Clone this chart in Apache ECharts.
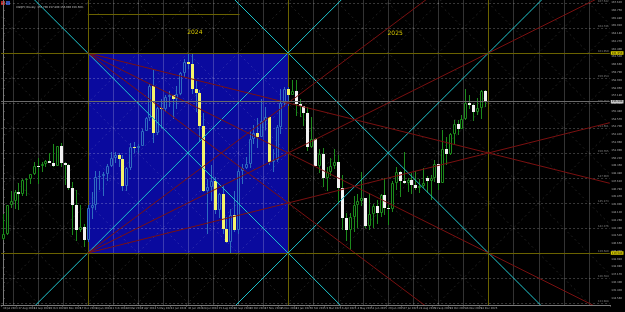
<!DOCTYPE html>
<html><head><meta charset="utf-8">
<script src="https://cdn.jsdelivr.net/npm/echarts@6/dist/echarts.min.js"></script>
<style>html,body{margin:0;padding:0;background:#000;}#c{width:625px;height:312px;}</style>
</head><body><div id="c"></div>
<script>
const TITLE_TEXT = 'USDJPY,Weekly  157.700 157.800 155.900 156.500';
const N_SLOTS = 158;
const DATE_LABELS = ['30 Jul 2023','27 Aug 2023','24 Sep 2023','22 Oct 2023','19 Nov 2023','17 Dec 2023','14 Jan 2024','11 Feb 2024','10 Mar 2024','7 Apr 2024','5 May 2024','2 Jun 2024','30 Jun 2024','28 Jul 2024','25 Aug 2024','22 Sep 2024','20 Oct 2024','17 Nov 2024','15 Dec 2024','12 Jan 2025','9 Feb 2025','9 Mar 2025','6 Apr 2025','4 May 2025','1 Jun 2025','29 Jun 2025','27 Jul 2025','24 Aug 2025','21 Sep 2025','19 Oct 2025','16 Nov 2025','14 Dec 2025'];
// weekly candles [open, high, low, close]
const C2023 = [
[141.15,143.89,141.05,141.75],[141.75,145.00,141.55,144.95],[144.95,146.56,144.60,145.40],[145.40,146.64,144.55,146.40],
[146.40,147.37,144.44,146.20],[146.20,147.87,145.90,147.80],[147.80,147.95,145.90,147.85],[147.85,148.46,147.30,148.37],
[148.37,149.71,148.30,149.35],[149.35,150.16,147.30,149.30],[149.30,149.80,148.60,149.57],[149.57,150.00,149.20,149.86],
[149.86,150.78,149.60,149.65],[149.65,151.72,149.20,149.35],[149.35,151.59,149.30,151.50],[151.50,151.91,149.20,149.60],
[149.60,149.75,147.15,149.45],[149.45,149.50,146.67,146.80],[146.80,147.50,141.63,144.95],[144.95,146.60,140.95,142.15],
[142.15,144.95,141.90,142.45],[142.45,142.80,140.25,141.00]];
const C2024 = [
[141.00,145.00,140.80,144.60],[144.60,146.40,143.40,144.90],[144.90,148.80,144.35,148.10],[148.10,148.70,146.65,148.15],
[148.15,148.60,145.90,148.40],[148.40,149.55,147.65,149.30],[149.30,150.90,149.20,150.20],[150.20,150.85,149.60,150.50],
[150.50,150.80,149.20,150.10],[150.10,150.50,146.50,147.05],[147.05,149.20,146.50,149.05],[149.05,151.85,148.90,151.40],
[151.40,151.97,150.80,151.35],[151.35,151.80,150.80,151.60],[151.60,153.40,151.50,153.25],[153.25,154.80,153.20,154.65],
[154.65,158.45,154.30,158.30],[158.30,160.20,151.85,153.00],[153.00,155.95,152.80,155.75],[155.75,156.80,153.60,155.65],
[155.65,157.20,155.40,157.00],[157.00,157.70,155.90,157.25],[157.25,157.30,154.55,156.75],[156.75,158.25,155.70,157.40],
[157.40,159.80,157.20,159.75],[159.75,161.30,159.30,160.90],[160.90,161.95,160.20,160.75],[160.75,161.80,157.40,157.90],
[157.90,158.85,155.40,157.45],[157.45,157.85,151.95,153.75],[153.75,155.20,146.40,146.55],[146.55,147.90,141.70,146.95],
[146.95,149.40,145.40,147.60],[147.60,148.10,143.95,144.35],[144.35,146.25,143.45,146.20],[146.20,147.20,141.75,142.30],
[142.30,143.60,140.70,140.85],[140.85,144.50,139.58,143.85],[143.85,146.50,141.90,142.20],[142.20,149.00,141.65,148.70],
[148.70,149.55,147.35,149.10],[149.10,150.30,148.95,149.50],[149.50,153.20,149.10,152.30],[152.30,153.90,151.75,152.95],
[152.95,154.70,151.30,152.60],[152.60,156.75,152.55,154.30],[154.30,155.90,153.30,154.75],[154.75,154.80,149.45,149.75],
[149.75,151.20,148.65,149.95],[149.95,153.90,149.80,153.65],[153.65,157.90,152.85,156.40],[156.40,158.10,156.00,157.90]];
const C2025 = [
[157.90,158.10,156.05,157.30],[157.30,158.90,157.20,157.75],[157.75,158.90,154.95,156.30],[156.30,156.75,154.80,156.00],
[156.00,156.00,153.75,155.20],[155.20,155.90,150.95,151.40],[151.40,154.80,151.30,152.30],[152.30,152.40,149.30,149.30],
[149.30,151.25,148.55,150.60],[150.60,151.30,146.95,148.00],[148.00,149.20,146.55,148.60],[148.60,150.15,148.20,149.30],
[149.30,151.20,149.00,149.80],[149.80,150.50,145.20,146.90],[146.90,148.30,142.10,143.50],[143.50,144.00,140.90,142.20],
[142.20,144.00,139.90,143.60],[143.60,145.90,141.95,144.90],[144.90,146.20,142.40,145.35],[145.35,148.65,144.80,145.70],
[145.70,145.75,142.40,142.55],[142.55,146.30,142.10,143.95],[143.95,145.10,142.40,144.85],[144.85,145.50,142.80,144.10],
[144.10,146.20,143.60,146.10],[146.10,148.00,143.80,144.60],[144.60,145.00,142.70,144.45],[144.45,147.60,144.20,147.40],
[147.40,149.20,146.60,148.60],[148.60,148.80,145.85,147.65],[147.65,150.90,147.30,147.40],[147.40,148.00,146.40,147.70],
[147.70,148.50,146.20,147.20],[147.20,148.80,146.60,146.90],[146.90,147.90,146.30,147.05],[147.05,149.10,146.80,147.40],
[147.95,148.20,146.30,147.60],[147.60,148.30,145.50,147.95],[147.95,149.95,147.50,149.50],[149.50,149.50,146.60,147.45],
[147.45,153.30,147.40,151.20],[151.20,152.60,149.40,150.60],[150.60,153.00,150.50,152.85],[152.85,154.45,151.70,154.00],
[154.00,154.50,152.80,153.40],[153.40,155.05,153.40,154.55],[154.55,157.90,154.50,156.40],[156.40,157.20,155.65,156.15],
[156.15,156.20,154.35,155.30],[155.30,156.95,155.00,155.80],[155.80,157.80,154.60,157.70],[157.70,157.80,155.90,156.50]];
const Y_TICKS = [167.620,166.750,165.880,165.010,164.140,163.270,162.400,161.530,160.660,159.790,158.920,158.050,157.180,156.310,155.440,154.570,153.700,152.830,151.960,151.090,150.220,149.350,148.480,147.610,146.740,145.870,145.000,144.130,143.260,142.390,141.520,140.650,139.780,138.910,138.040,137.170,136.300,135.430,134.560];
const YEAR_TEXT = ['2024','2025'];
const YEAR_TEXT_POS = [[49.8,164.30],[101.8,164.19]];
const YEAR_START = [22, 74, 126];   // week index of year boundaries
const BOX_HIGH = 161.95, BOX_LOW = 139.58;
const TOP_LEVEL = 166.31, TOP_LEVEL_END = 61.4;
const BID = 156.50;
const Y_MIN = 133.764, Y_MAX = 167.878;
const FAN = [0.25, 0.5, 0.75];

const FONT = 'DejaVu Sans';
const OLIVE = '#6a6200', CYAN = '#1cc4cc', RED = '#7a1010', GREEN = '#1c8a1c';
const BOX_FILL = '#0a0a9e', BOX_WICK = '#2f6cc0', BOX_BEAR = '#f4f46a', BEAR = '#f2f2f2';
const STYLES = [
  {c:'rgba(255,255,255,0.2)', w:1},
  {c:'rgba(255,255,255,0.22)', w:1, d:[2,2]},
  {c:'rgba(255,255,255,0.13)', w:1, d:[2,3]},
  {c:OLIVE, w:1},
  {c:CYAN, w:1},
  {c:RED, w:1}
];

const ALL = C2023.concat(C2024, C2025);
const S = (BOX_HIGH-BOX_LOW)/(YEAR_START[1]-YEAR_START[0]);
const CELL_X = (YEAR_START[1]-YEAR_START[0])/8, CELL_P = (BOX_HIGH-BOX_LOW)/8;

const gridSegs = [];
for (let k=-4;k<=22;k++){ const x=YEAR_START[0]+k*CELL_X; if(x<-0.5||x>157.5) continue; gridSegs.push([x,Y_MIN-5,x,Y_MAX+5,0]); }
for (let k=-3;k<=11;k++){ const p=BOX_HIGH-k*CELL_P; if(p<Y_MIN||p>Y_MAX) continue; gridSegs.push([-0.5,p,157.5,p,1]); }
for (let m=-14;m<=12;m++){ const xm=YEAR_START[0]+2*CELL_X*m;
  gridSegs.push([xm-150,BOX_HIGH+S*150,xm+150,BOX_HIGH-S*150,2]);
  gridSegs.push([xm-150,BOX_HIGH-S*150,xm+150,BOX_HIGH+S*150,2]); }
YEAR_START.forEach(x=>gridSegs.push([x,Y_MIN-5,x,Y_MAX+5,3]));
gridSegs.push([YEAR_START[0],TOP_LEVEL,TOP_LEVEL_END,TOP_LEVEL,3]);

const overlay = [];
const X0=-20, X1=180;
function inf(x,p,sl){ overlay.push([X0,p+sl*(X0-x),X1,p+sl*(X1-x),4]); }
inf(YEAR_START[0],BOX_HIGH,-S); inf(YEAR_START[0],BOX_LOW,S); inf(YEAR_START[1],BOX_LOW,S); inf(YEAR_START[1],BOX_HIGH,-S);
FAN.forEach(f=>{
  overlay.push([YEAR_START[0],BOX_HIGH,X1,BOX_HIGH-f*S*(X1-YEAR_START[0]),5]);
  overlay.push([YEAR_START[0],BOX_LOW,X1,BOX_LOW+f*S*(X1-YEAR_START[0]),5]);
});

const levelLabels = [];
for (let k=-2;k<=10;k++){ levelLabels.push([157.2, BOX_HIGH-k*CELL_P]); }

function clipOf(params){ const cs=params.coordSys; return {type:'rect',shape:{x:cs.x,y:cs.y,width:cs.width,height:cs.height}}; }
function lineRender(params, api){
  let a = api.coord([api.value(0), api.value(1)]);
  let b = api.coord([api.value(2), api.value(3)]);
  const st = STYLES[api.value(4)];
  if (api.value(0)===api.value(2)) { const x=Math.round(a[0])+0.5; a[0]=x; b[0]=x; }
  if (api.value(1)===api.value(3)) { const y=Math.round(a[1])+0.5; a[1]=y; b[1]=y; }
  return {type:'line', silent:true, shape:{x1:a[0],y1:a[1],x2:b[0],y2:b[1]},
    style:{stroke:st.c, lineWidth:st.w, lineDash:st.d||null}, clipPath:clipOf(params)};
}
function candleRender(params, api){
  const i=api.value(0), o=api.value(1), h=api.value(2), l=api.value(3), c=api.value(4);
  const inBox = i>=YEAR_START[0] && i<=YEAR_START[1];
  const cx = Math.round(api.coord([i,o])[0]);
  const yo=api.coord([i,o])[1], yc=api.coord([i,c])[1], yh=api.coord([i,h])[1], yl=api.coord([i,l])[1];
  const wick = inBox ? BOX_WICK : GREEN;
  const top = Math.round(Math.min(yo,yc)), bot = Math.max(Math.round(Math.max(yo,yc)), top+1);
  const kids = [{type:'line', shape:{x1:cx+0.5,y1:Math.round(yh),x2:cx+0.5,y2:Math.round(yl)}, style:{stroke:wick,lineWidth:1}}];
  if (c >= o) {
    kids.push({type:'rect', shape:{x:cx-0.5,y:top+0.5,width:2,height:Math.max(bot-top-1,0)}, style:{fill:inBox?BOX_FILL:'#000',stroke:wick,lineWidth:1}});
  } else {
    kids.push({type:'rect', shape:{x:cx-1,y:top,width:3,height:bot-top}, style:{fill:inBox?BOX_BEAR:BEAR}});
  }
  return {type:'group', children:kids, clipPath:clipOf(params)};
}

const CATS = Array.from({length:N_SLOTS},(_,i)=>String(i));
const candleData = ALL.map((c,i)=>[i,c[0],c[1],c[2],c[3]]);

const chart = echarts.init(document.getElementById('c'), null, {renderer:'canvas'});
const hl = (v,bg)=>({yAxis:v, lineStyle:{color:bg==='#c8c8c8'?'#6a6a6a':OLIVE,type:'solid',width:1},
  label:{formatter:v.toFixed(3), backgroundColor:bg, color:'#000', fontSize:2.6, fontFamily:FONT, padding:[0.5,1,0,1]}});
chart.setOption({
  animation:false,
  backgroundColor:'#000',
  title:{text:TITLE_TEXT, left:11, top:1, textStyle:{fontSize:2.6, color:'#c8c8c8', fontWeight:'normal', fontFamily:FONT}},
  graphic:[
    {type:'rect', left:1, top:1, shape:{width:4,height:4}, style:{fill:'#b02020'}},
    {type:'rect', left:6, top:1, shape:{width:4,height:4}, style:{fill:'#3050b0'}}
  ],
  grid:{left:0, right:12, top:0, bottom:7, containLabel:false},
  xAxis:[
    {type:'category', data:CATS, boundaryGap:true,
     axisLine:{lineStyle:{color:'#7a7a7a'}},
     axisTick:{show:true, length:1.5, interval:(i)=>i%4===0 && i<ALL.length, lineStyle:{color:'#7a7a7a'}},
     axisLabel:{interval:0, margin:1.5, fontSize:2.6, fontFamily:FONT, color:'#b4b4b4', align:'left',
       formatter:(v,i)=> (i%4===0 && DATE_LABELS[i/4]) ? DATE_LABELS[i/4] : ''},
     splitLine:{show:false}},
    {type:'value', min:-0.5, max:N_SLOTS-0.5, show:false}
  ],
  yAxis:{type:'value', position:'right', min:Y_MIN, max:Y_MAX, scale:true,
    axisLine:{show:true, lineStyle:{color:'#7a7a7a'}},
    axisTick:{show:true, length:1.5, customValues:Y_TICKS, lineStyle:{color:'#7a7a7a'}},
    axisLabel:{customValues:Y_TICKS, formatter:v=>v.toFixed(3), fontSize:2.6, fontFamily:FONT, color:'#b4b4b4', margin:1.5},
    splitLine:{show:false}},
  series:[
    {type:'custom', xAxisIndex:1, yAxisIndex:0, z:1, silent:true,
     data:[[YEAR_START[0],BOX_HIGH,YEAR_START[1],BOX_LOW]],
     renderItem:(params,api)=>{
       const a=api.coord([api.value(0),api.value(1)]), b=api.coord([api.value(2),api.value(3)]);
       return {type:'rect', shape:{x:Math.round(a[0]),y:Math.round(a[1]),width:Math.round(b[0])-Math.round(a[0]),height:Math.round(b[1])-Math.round(a[1])}, style:{fill:BOX_FILL}};
     }},
    {type:'custom', xAxisIndex:1, yAxisIndex:0, z:2, silent:true, data:gridSegs, renderItem:lineRender,
     markLine:{silent:true, symbol:['none','none'], animation:false,
       label:{position:'end', distance:1, fontSize:2.6},
       data:[hl(BOX_HIGH,'#d8cc00'), hl(BOX_LOW,'#d8cc00'), hl(BID,'#c8c8c8')]}},
    {type:'custom', xAxisIndex:1, yAxisIndex:0, z:2, silent:true, data:levelLabels,
     renderItem:(params,api)=>{
       const a=api.coord([api.value(0),api.value(1)]);
       return {type:'text', style:{text:api.value(1).toFixed(3), x:a[0], y:a[1]-0.5, fill:'#8a8a8a', fontSize:2.6, fontFamily:FONT, align:'right', verticalAlign:'bottom'}};
     }},
    {type:'custom', xAxisIndex:1, yAxisIndex:0, z:3, silent:true, data:candleData, renderItem:candleRender,
     encode:{x:0, y:[1,2,3,4]}},
    {type:'custom', xAxisIndex:1, yAxisIndex:0, z:4, silent:true, data:overlay, renderItem:lineRender},
    {type:'custom', xAxisIndex:1, yAxisIndex:0, z:5, silent:true, data:YEAR_TEXT_POS.map((p,i)=>[p[0],p[1],i]),
     renderItem:(params,api)=>{
       const a=api.coord([api.value(0),api.value(1)]);
       return {type:'text', style:{text:YEAR_TEXT[api.value(2)], x:a[0], y:a[1], fill:'#d8c800', fontSize:6, fontFamily:FONT, align:'center', verticalAlign:'middle'}};
     }}
  ]
});
</script></body></html>
